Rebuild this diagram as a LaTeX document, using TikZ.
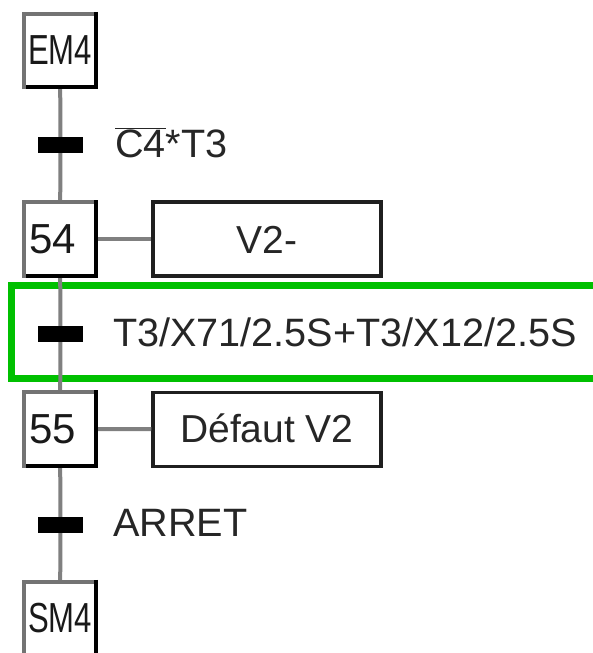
\documentclass[tikz,border=0pt]{standalone}
\usepackage{graphicx}
\usepackage{fontspec}
\setmainfont{Liberation Sans}
\begin{document}
\begin{tikzpicture}[x=1pt,y=-1pt,
  stepbox/.style={minimum width=72pt,minimum height=73pt,inner sep=0pt,fill=white,
    font=\fontsize{42}{46}\selectfont,text=black!90},
  numbox/.style={stepbox,text width=62pt,inner xsep=5pt,align=left},
  actbox/.style={draw=black!88,line width=3.5pt,minimum width=228pt,minimum height=74pt,inner sep=0pt},
  acttext/.style={inner sep=0pt,anchor=base,font=\fontsize{39}{44}\selectfont,text=black!85},
  bar/.style={fill=black,minimum width=45pt,minimum height=16pt,inner sep=0pt},
  link/.style={draw=black!50,line width=4pt},
  lbl/.style={inner sep=0pt,anchor=base west,font=\fontsize{39.6}{44}\selectfont,text=black!85},
  greenframe/.style={draw={rgb,255:red,0;green,192;blue,0},line width=6.5pt}]
\useasboundingbox (0,0) rectangle (593,653);
\clip (0,0) rectangle (593,653);
% highlight frame
\draw[greenframe] (11.5,285.5) rectangle (610,378.5);
% steps
\node[stepbox] (em4) at (60,50.5) {\scalebox{0.74}[1]{EM4}};
\node[numbox] (s54) at (60,239) {54};
\node[numbox] (s55) at (60,429) {55};
\node[stepbox] (sm4) at (60,618.5) {\scalebox{0.74}[1]{SM4}};
% transitions
\node[bar] (t1) at (60.5,145) {};
\node[bar] (t2) at (60.5,334) {};
\node[bar] (t3) at (60.5,525) {};
% actions
\node[actbox] (a54) at (267,239) {};
\node[actbox] (a55) at (267,429.5) {};
\node[acttext] (a54t) at (267,253) {V2-};
\node[acttext] (a55t) at (267,442) {Défaut V2};
% connectors
\draw[link] (em4) -- (t1) -- (s54) -- (t2) -- (s55) -- (t3) -- (sm4);
\draw[link] (s54) -- (a54);
\draw[link] (s55) -- (a55);
% step outlines
\foreach \s in {em4,s54,s55,sm4} {
  \draw[line width=4pt,draw=black!55] ([yshift=-2pt]\s.south west) -- (\s.north west) -- ([xshift=-2pt]\s.north east);
  \draw[line width=4pt,draw=black] ([yshift=2pt]\s.north east) -- (\s.south east) -- ([xshift=2pt]\s.south west);
}
% transition labels
\node[lbl] (c1) at (115,157) {$\overline{\hbox{C4}}$*T3};
\node[lbl] (c2) at (113,346.5) {T3/X71/2.5S+T3/X12/2.5S};
\node[lbl] (c3) at (113,536) {ARRET};
\end{tikzpicture}
\end{document}
